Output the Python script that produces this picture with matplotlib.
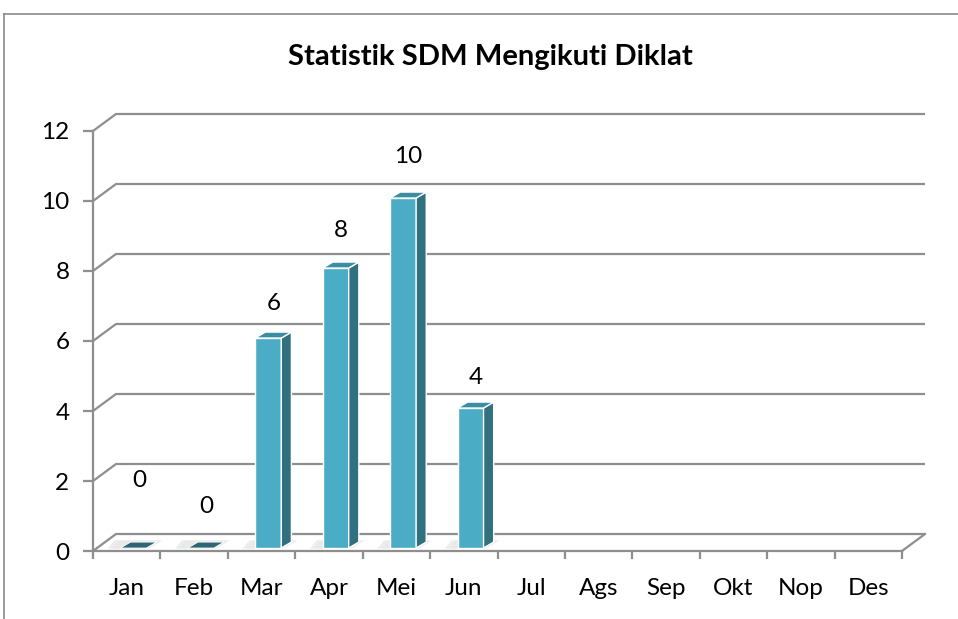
import numpy as np
import matplotlib
matplotlib.use("Agg")
import matplotlib.pyplot as plt
from matplotlib.patches import Polygon
from matplotlib.lines import Line2D

# data
months = ["Jan", "Feb", "Mar", "Apr", "Mei", "Jun", "Jul", "Ags", "Sep", "Okt", "Nop", "Des"]
values = [0, 0, 6, 8, 10, 4]          # only Jan..Jun have data
yticks = [0, 2, 4, 6, 8, 10, 12]

plt.rcParams['font.family'] = ['Lato', 'DejaVu Sans']

W, H = 958, 619
fig = plt.figure(figsize=(W / 100, H / 100), dpi=100)

# axes in pixel terms of the reference
ax = fig.add_axes([93 / W, (H - 551) / H, (925 - 93) / W, (551 - 114) / H])
ncat = len(months)
ymax = 12
DX = ncat * 832 / 809 - ncat      # depth of back wall, in category units
DY = ymax * 437 / 420 - ymax      # depth of back wall, in value units
ax.set_xlim(0, ncat + DX)
ax.set_ylim(0, ymax + DY)

grid_c = "#8e8e8e"
lw = 1.6
fs = 17.5

# back wall gridlines, bent at the left wall
for v in yticks:
    ax.plot([0, DX, ncat + DX], [v, v + DY, v + DY], color=grid_c, lw=lw,
            clip_on=False, solid_capstyle="butt", zorder=1)
# floor right edge
ax.plot([ncat, ncat + DX], [0, DY], color=grid_c, lw=lw, clip_on=False, zorder=1)

# bars (pseudo 3D)
bw = 0.386          # front face width (category units)
fx, fy = 0.10, 0.085   # shift of front face into depth
sx, sy = 0.15, 0.17    # bar depth
front_c, side_c, top_c = "#4bacc6", "#31707f", "#3b8da1"
for i, v in enumerate(values):
    x0 = i + 0.5 - bw / 2 + fx
    x1 = x0 + bw
    y0 = fy
    y1 = v + fy
    # soft floor shadow
    for k, a in enumerate([0.35, 0.6]):
        g = 0.12 - 0.06 * k
        ax.add_patch(Polygon([(x0 - 0.25 + g, y0 - 0.02), (x1 + 0.1 - g, y0 - 0.02),
                              (x1 + sx + 0.15 - g, y0 + sy + 0.05), (x0 - 0.15 + g, y0 + sy + 0.05)],
                             closed=True, facecolor="#e2e2e2", edgecolor="none", alpha=a,
                             zorder=2, clip_on=False))
    if v > 0:
        ax.add_patch(Polygon([(x0, y0), (x1, y0), (x1, y1), (x0, y1)], closed=True,
                             facecolor=front_c, edgecolor="white", lw=1.0, zorder=4, clip_on=False))
        ax.add_patch(Polygon([(x1, y0), (x1 + sx, y0 + sy), (x1 + sx, y1 + sy), (x1, y1)],
                             closed=True, facecolor=side_c, edgecolor="white", lw=1.0,
                             zorder=4, clip_on=False))
    ax.add_patch(Polygon([(x0, y1), (x1, y1), (x1 + sx, y1 + sy), (x0 + sx, y1 + sy)],
                         closed=True, facecolor=top_c if v > 0 else "#2e6676",
                         edgecolor="white", lw=1.0 if v > 0 else 0.6, zorder=5, clip_on=False))

# value labels (offsets in points above the value)
label_dy = [51, 32, 27, 29, 32, 24]
for i, v in enumerate(values):
    ax.annotate(str(v), (i + 0.5 + 0.18, v), xytext=(0, label_dy[i]),
                textcoords="offset points", ha="center", va="center",
                fontsize=fs, color="black", zorder=6, annotation_clip=False)

# axes: spines and ticks
for s in ["top", "right"]:
    ax.spines[s].set_visible(False)
for s in ["left", "bottom"]:
    ax.spines[s].set_color(grid_c)
    ax.spines[s].set_linewidth(lw)
ax.spines["left"].set_bounds(0, ymax)
ax.spines["bottom"].set_bounds(0, ncat)
ax.spines["left"].set_zorder(3)
ax.spines["bottom"].set_zorder(3)

ax.set_yticks(yticks)
ax.set_yticklabels([str(t) for t in yticks])
ax.tick_params(axis="y", direction="out", length=7, width=lw, color=grid_c,
               labelsize=fs, pad=10)
ax.set_xticks(np.arange(ncat + 1))
ax.set_xticklabels([])
ax.tick_params(axis="x", which="major", direction="out", length=6, width=lw, color=grid_c)
ax.set_xticks(np.arange(ncat) + 0.5, minor=True)
ax.set_xticklabels(months, minor=True)
ax.tick_params(axis="x", which="minor", length=0, labelsize=fs, pad=19.5)

ax.set_facecolor("none")

fig.text(490 / W, 1 - 57 / H, "Statistik SDM Mengikuti Diklat", ha="center", va="center",
         fontsize=21, fontweight="bold")

# chart border (cut at right and bottom)
fig.add_artist(Line2D([4 / W, 1], [1 - 14 / H, 1 - 14 / H], color="#8a8a8a", lw=1.2))
fig.add_artist(Line2D([4 / W, 4 / W], [1 - 14 / H, 0], color="#8a8a8a", lw=1.2))

fig.savefig("out.png", dpi=100)
